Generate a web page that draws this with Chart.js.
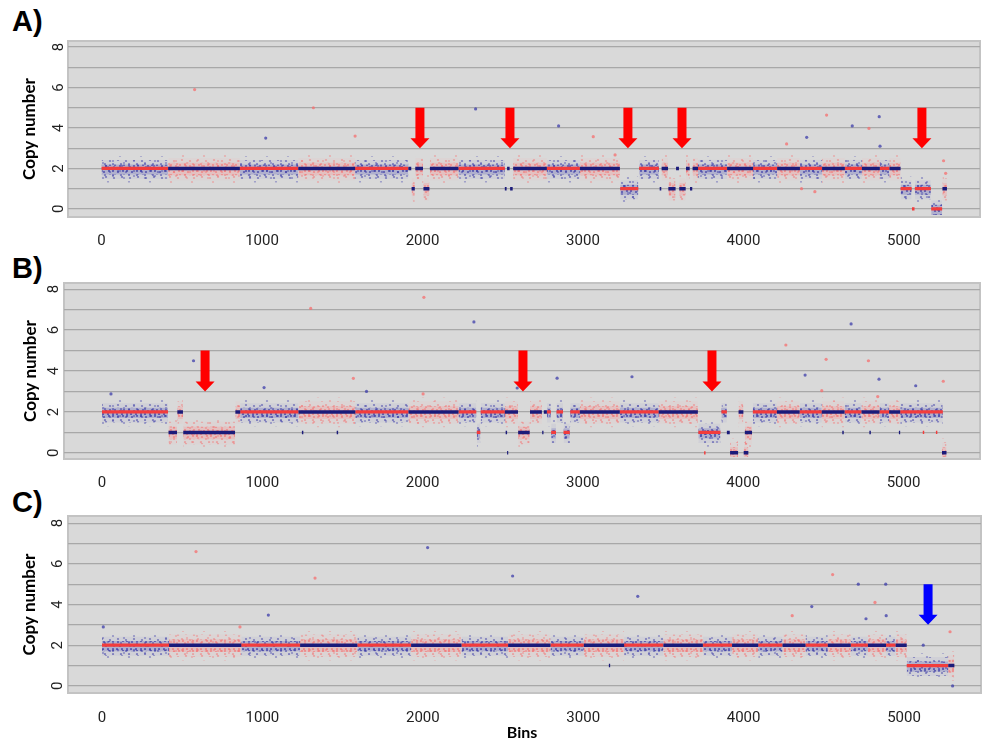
<!DOCTYPE html>
<html>
<head>
<meta charset="utf-8">
<script src="https://cdn.jsdelivr.net/npm/chart.js@4.4.1/dist/chart.umd.min.js"></script>
<style>
  body { margin: 0; background: #fff; width: 985px; height: 741px; overflow: hidden; position: relative; }
  .panel { position: absolute; left: 0; width: 985px; }
  .lab { position: absolute; left: 12px; font: bold 29px "Liberation Sans", Arial, sans-serif; line-height: 1; color: #000; }
</style>
</head>
<body>
<div class="lab" style="top:7px">A)</div>
<div class="lab" style="top:254px">B)</div>
<div class="lab" style="top:488px">C)</div>
<div class="panel" style="top:0;height:245px"><canvas id="chartA"></canvas></div>
<div class="panel" style="top:245px;height:245px"><canvas id="chartB"></canvas></div>
<div class="panel" style="top:490px;height:251px"><canvas id="chartC"></canvas></div>

<script>
// tick labels
var xTicks = [0, 1000, 2000, 3000, 4000, 5000];
var yTickLabels = [0, 2, 4, 6, 8];

// last bin of each chromosome (1..22, X, Y)
var chromEndsAB = [415, 862, 1226, 1580, 1912, 2224, 2513, 2775, 2981, 3230, 3473, 3717,
  3898, 4060, 4210, 4352, 4490, 4632, 4738, 4850, 4910, 4979, 5240, 5270];
var chromEndsC = [418, 868, 1235, 1592, 1927, 2241, 2532, 2796, 3004, 3255, 3500, 3746,
  3928, 4091, 4243, 4386, 4525, 4668, 4775, 4888, 4948, 5017, 5276, 5314];

// segments: [start bin, end bin, copy number]
var segA = [
  [0, 415, 2], [415, 862, 2], [862, 1226, 2], [1226, 1580, 2], [1580, 1912, 2],
  [1912, 1930, 2], [1932, 1952, 1], [1955, 2003, 2], [2006, 2043, 1], [2046, 2224, 2],
  [2224, 2513, 2],
  [2513, 2524, 1], [2527, 2543, 2], [2546, 2562, 1], [2565, 2775, 2],
  [2775, 2981, 2], [2981, 3230, 2],
  [3232, 3345, 1], [3350, 3473, 2],
  [3478, 3488, 1], [3490, 3530, 2], [3532, 3577, 1], [3580, 3598, 2], [3600, 3640, 1],
  [3642, 3665, 2], [3667, 3681, 1], [3683, 3717, 2],
  [3717, 3898, 2], [3898, 4060, 2], [4060, 4210, 2], [4210, 4352, 2], [4352, 4490, 2],
  [4490, 4632, 2], [4632, 4738, 2], [4738, 4850, 2], [4850, 4910, 2], [4910, 4979, 2],
  [4979, 5048, 1], [5050, 5066, 0], [5068, 5168, 1], [5170, 5238, 0],
  [5240, 5268, 1]
];
var segB = [
  [0, 412, 2],
  [415, 468, 1], [470, 505, 2], [507, 830, 1], [832, 862, 2],
  [862, 1226, 2],
  [1226, 1580, 2], [1247, 1256, 1], [1464, 1473, 1],
  [1580, 1912, 2], [1912, 2224, 2],
  [2224, 2335, 2], [2338, 2360, 1], [2362, 2513, 2],
  [2513, 2595, 2], [2518, 2527, 1], [2527, 2534, 0], [2596, 2668, 1], [2670, 2744, 2],
  [2746, 2754, 1], [2756, 2775, 2],
  [2775, 2800, 2], [2802, 2832, 1], [2835, 2876, 2], [2879, 2918, 1], [2921, 2981, 2],
  [2981, 3230, 2], [3230, 3473, 2], [3473, 3717, 2],
  [3720, 3858, 1], [3756, 3765, 0], [3864, 3898, 2],
  [3898, 3916, 1], [3918, 3968, 0], [3971, 4001, 2], [4003, 4032, 0], [4010, 4055, 1],
  [4060, 4210, 2], [4210, 4352, 2], [4352, 4490, 2], [4490, 4632, 2], [4618, 4627, 1],
  [4632, 4738, 2], [4738, 4850, 2], [4787, 4796, 1], [4850, 4910, 2], [4910, 4979, 2],
  [4971, 4979, 1],
  [4979, 5245, 2], [5120, 5129, 1], [5202, 5211, 1],
  [5240, 5268, 0]
];
var segC = [
  [0, 418, 2], [418, 868, 2], [868, 1235, 2], [1235, 1592, 2], [1592, 1927, 2],
  [1927, 2241, 2], [2241, 2532, 2], [2532, 2796, 2], [2796, 3004, 2], [3004, 3255, 2],
  [3160, 3168, 1], [3255, 3500, 2], [3500, 3746, 2], [3746, 3928, 2], [3928, 4091, 2],
  [4091, 4243, 2], [4243, 4386, 2], [4386, 4525, 2], [4525, 4668, 2], [4668, 4775, 2],
  [4775, 4888, 2], [4888, 4948, 2], [4948, 5017, 2],
  [5017, 5276, 1], [5276, 5314, 1]
];

// isolated outlier bins [bin, copy number]
var outA_blue = [[1023, 3.5], [2331, 4.94], [2848, 4.1], [4846, 4.56], [4678, 4.1], [4394, 3.54], [4851, 3.1]];
var outA_red = [[580, 5.9], [1320, 5.0], [3064, 3.57], [1580, 3.6], [3200, 2.67], [4518, 4.64],
  [4782, 3.98], [4269, 3.21], [5247, 2.38], [5260, 1.76], [4362, 1.0], [4445, 0.85]];
var outB_blue = [[571, 4.5], [1011, 3.19], [56, 2.88], [2320, 6.4], [2839, 3.65], [3306, 3.72],
  [1650, 3.0], [2590, 3.17], [4673, 6.3], [4386, 3.8], [4847, 3.6], [5076, 3.28]];
var outB_red = [[1302, 7.06], [2008, 7.6], [1568, 3.64], [2003, 2.88], [4266, 5.27], [4517, 4.57],
  [4781, 4.5], [5248, 3.5], [4490, 3.04], [4839, 2.75]];
var outC_blue = [[1037, 3.48], [8, 2.9], [2030, 6.8], [2560, 5.4], [3340, 4.4], [4715, 5.0],
  [4886, 5.0], [4425, 3.9], [4763, 3.3], [4889, 3.45], [5303, 0.0], [5120, 2.0]];
var outC_red = [[586, 6.6], [1328, 5.3], [860, 2.9], [4555, 5.47], [4819, 4.1], [4303, 3.45], [5287, 2.66]];

// arrows (bin positions)
var arrA = [1984, 2545, 3280, 3617, 5112];
var arrB = [643, 2626, 3805];
var arrC = [5150];
var arrowTop = 5.0, arrowTip = 3.0;

// spread of the bin cloud around the segment level
var spreadBlue = { fringe: [-0.7, 0.6], outer: [-0.52, 0.42], inner: [-0.3, 0.2] };
var spreadRed = { fringe: [-0.75, 0.7], outer: [-0.58, 0.52], inner: [-0.34, 0.28] };

var BLUE_LINE = '#1b1b7a', RED_LINE = '#f23c3c';

function dotPattern(dots, w, h, color, tint) {
  var c = document.createElement('canvas');
  c.width = w; c.height = h;
  var g = c.getContext('2d');
  if (tint) { g.fillStyle = tint; g.fillRect(0, 0, w, h); }
  g.fillStyle = color;
  dots.forEach(function (d) {
    g.beginPath(); g.arc(d[0] + 1, d[1] + 1, 1.1, 0, Math.PI * 2); g.fill();
  });
  return g.createPattern(c, 'repeat');
}
var denseDots = [[0, 0], [5, 1], [10, 0], [2, 4], [7, 5], [11, 4], [0, 8], [4, 8], [9, 8]];
var sparseDots = [[1, 1], [9, 0], [5, 5], [13, 6], [0, 9], [8, 9]];
var fringeDots = [[2, 1], [14, 5], [7, 10], [18, 12]];
var pat = {
  blueInner: dotPattern(denseDots, 14, 10, 'rgba(45,45,160,0.7)', 'rgba(85,85,180,0.26)'),
  blueOuter: dotPattern(sparseDots, 16, 11, 'rgba(55,55,165,0.55)', 'rgba(100,100,185,0.08)'),
  blueFringe: dotPattern(fringeDots, 21, 15, 'rgba(60,60,170,0.45)', null),
  redInner: dotPattern(denseDots, 14, 10, 'rgba(245,100,100,0.6)', 'rgba(250,135,135,0.26)'),
  redOuter: dotPattern(sparseDots, 16, 11, 'rgba(245,110,110,0.5)', 'rgba(250,150,150,0.08)'),
  redFringe: dotPattern(fringeDots, 21, 15, 'rgba(245,120,120,0.45)', null)
};
var bandKeys = { fringe: 'Fringe', outer: 'Outer', inner: 'Inner' };

function chromIndex(ends, bin) {
  for (var i = 0; i < ends.length; i++) if (bin < ends[i]) return i;
  return ends.length - 1;
}

function buildPanel(id, p) {
  var ds = [];
  var redLine = [], blueLine = [];
  p.segs.forEach(function (s) {
    var ci = chromIndex(p.ends, (s[0] + s[1]) / 2);
    var bluePts = ci % 2 === 0;
    var target = bluePts ? redLine : blueLine;
    target.push({ x: s[0], y: s[2] }, { x: s[1], y: s[2] }, { x: s[1], y: null });
    if (s[1] - s[0] >= 20) {
      var sp = bluePts ? spreadBlue : spreadRed;
      Object.keys(bandKeys).forEach(function (k) {
        var lo = Math.max(s[2] + sp[k][0], p.ymin + 0.1);
        var hi = s[2] + sp[k][1];
        ds.push({
          data: [{ x: s[0], y: hi }, { x: s[1], y: hi }],
          fill: { value: lo },
          backgroundColor: pat[(bluePts ? 'blue' : 'red') + bandKeys[k]],
          borderWidth: 0, pointRadius: 0, order: 4
        });
      });
    }
  });
  ds.push({
    data: p.outBlue.map(function (d) { return { x: d[0], y: d[1] }; }),
    showLine: false, pointRadius: 1.6, pointBorderWidth: 0,
    pointBackgroundColor: 'rgba(60,60,170,0.75)', order: 3
  });
  ds.push({
    data: p.outRed.map(function (d) { return { x: d[0], y: d[1] }; }),
    showLine: false, pointRadius: 1.6, pointBorderWidth: 0,
    pointBackgroundColor: 'rgba(245,110,110,0.75)', order: 3
  });
  ds.push({ data: blueLine, borderColor: BLUE_LINE, borderWidth: 3.5, pointRadius: 0, spanGaps: false, fill: false, order: 1 });
  ds.push({ data: redLine, borderColor: RED_LINE, borderWidth: 3.2, pointRadius: 0, spanGaps: false, fill: false, order: 1 });

  var decor = {
    id: 'decor' + id,
    beforeDraw: function (chart) {
      var a = chart.chartArea, ctx = chart.ctx;
      ctx.save();
      ctx.fillStyle = '#d9d9d9';
      ctx.fillRect(a.left, a.top, a.right - a.left, a.bottom - a.top);
      ctx.strokeStyle = '#c3c3c3';
      ctx.lineWidth = 2;
      ctx.strokeRect(a.left, a.top, a.right - a.left, a.bottom - a.top);
      ctx.restore();
    },
    afterDraw: function (chart) {
      var ctx = chart.ctx, xs = chart.scales.x, ys = chart.scales.y, a = chart.chartArea;
      ctx.save();
      // rotated y tick labels
      ctx.fillStyle = '#222';
      ctx.font = '15px Roboto, sans-serif';
      ctx.textAlign = 'center';
      ctx.textBaseline = 'middle';
      yTickLabels.forEach(function (v) {
        ctx.save();
        ctx.translate(p.tickX, ys.getPixelForValue(v));
        ctx.rotate(-Math.PI / 2);
        ctx.fillText(String(v), 0, 0);
        ctx.restore();
      });
      // y title
      ctx.save();
      ctx.font = 'bold 17px Lato, sans-serif';
      ctx.fillStyle = '#000';
      ctx.translate(p.titleX, (a.top + a.bottom) / 2);
      ctx.rotate(-Math.PI / 2);
      ctx.fillText('Copy number', 0, 0);
      ctx.restore();
      if (p.binsY) {
        ctx.font = 'bold 16px Lato, sans-serif';
        ctx.fillStyle = '#000';
        ctx.fillText('Bins', 522, p.binsY);
      }
      // arrows
      ctx.fillStyle = p.arrowColor;
      p.arrows.forEach(function (b) {
        var x = xs.getPixelForValue(b);
        var yt = ys.getPixelForValue(arrowTop), yp = ys.getPixelForValue(arrowTip);
        var hh = 10, sw = 4.5, hw = 9.5;
        ctx.beginPath();
        ctx.moveTo(x - sw, yt); ctx.lineTo(x + sw, yt); ctx.lineTo(x + sw, yp - hh);
        ctx.lineTo(x + hw, yp - hh); ctx.lineTo(x, yp); ctx.lineTo(x - hw, yp - hh);
        ctx.lineTo(x - sw, yp - hh); ctx.closePath(); ctx.fill();
      });
      ctx.restore();
    }
  };

  return new Chart(document.getElementById(id), {
    type: 'line',
    data: { datasets: ds },
    options: {
      responsive: true, maintainAspectRatio: false, animation: false, events: [],
      layout: { padding: { top: p.padTop, right: p.padRight, left: 0, bottom: 0 } },
      plugins: { legend: { display: false }, tooltip: { enabled: false } },
      elements: { line: { tension: 0 } },
      scales: {
        x: {
          type: 'linear', min: p.xmin, max: p.xmax,
          afterFit: function (s) { s.height = p.xHeight; },
          afterBuildTicks: function (s) { s.ticks = xTicks.map(function (v) { return { value: v }; }); },
          grid: { display: false }, border: { display: false },
          ticks: {
            padding: p.tickPad, maxRotation: 0, autoSkip: false, color: '#222',
            font: { family: 'Roboto, sans-serif', size: 15 },
            callback: function (v) { return String(v); }
          }
        },
        y: {
          type: 'linear', min: p.ymin, max: p.ymax,
          afterFit: function (s) { s.width = p.yWidth; },
          ticks: { stepSize: 1, includeBounds: false, display: false },
          grid: { color: '#a8a8a8', lineWidth: 1.2, drawTicks: false },
          border: { display: false }
        }
      }
    },
    plugins: [decor]
  });
}

buildPanel('chartA', {
  segs: segA, ends: chromEndsAB, outBlue: outA_blue, outRed: outA_red, arrows: arrA, arrowColor: '#ff0000',
  xmin: -209, xmax: 5474, ymin: -0.4, ymax: 8.3, padTop: 41, padRight: 5, yWidth: 68, xHeight: 28,
  tickPad: 7, tickX: 59, titleX: 30, binsY: 0
});
buildPanel('chartB', {
  segs: segB, ends: chromEndsAB, outBlue: outB_blue, outRed: outB_red, arrows: arrB, arrowColor: '#ff0000',
  xmin: -237, xmax: 5477, ymin: -0.3, ymax: 8.3, padTop: 38, padRight: 5, yWidth: 64, xHeight: 31,
  tickPad: 7, tickX: 54, titleX: 31, binsY: 0
});
buildPanel('chartC', {
  segs: segC, ends: chromEndsC, outBlue: outC_blue, outRed: outC_red, arrows: arrC, arrowColor: '#0000ff',
  xmin: -212, xmax: 5480, ymin: -0.35, ymax: 8.35, padTop: 26, padRight: 2, yWidth: 68, xHeight: 48,
  tickPad: 8, tickX: 58, titleX: 30, binsY: 243
});
</script>
</body>
</html>
